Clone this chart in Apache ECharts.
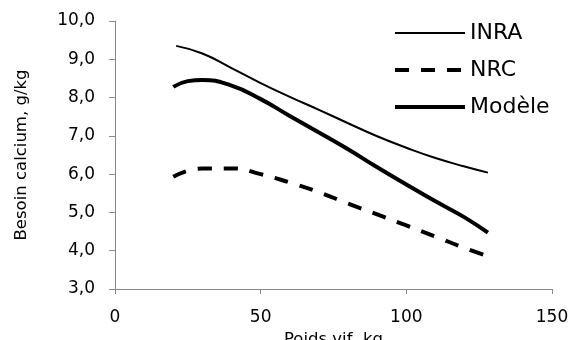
<!DOCTYPE html>
<html>
<head>
<meta charset="utf-8">
<script src="https://cdn.jsdelivr.net/npm/echarts@6/dist/echarts.min.js"></script>
<style>
  html, body { margin: 0; padding: 0; background: #fff; }
  #chart { width: 569px; height: 340px; }
</style>
</head>
<body>
<div id="chart"></div>
<script>
// poids vif (kg) and besoin calcium (g/kg)
const inraX = [21, 30, 40, 50, 60, 70, 80, 90, 100, 110, 120, 128]
const inraY = [9.35, 9.15, 8.77, 8.38, 8.02, 7.68, 7.33, 6.99, 6.69, 6.42, 6.20, 6.04]

const nrcX = [20, 30, 40, 50, 60, 70, 80, 90, 100, 110, 120, 128]
const nrcY = [5.93, 6.15, 6.15, 6.0, 5.78, 5.53, 5.23, 4.95, 4.66, 4.37, 4.07, 3.86]

const modeleX = [20, 25, 30, 40, 50, 60, 70, 80, 90, 100, 110, 120, 128]
const modeleY = [8.28, 8.43, 8.46, 8.31, 7.96, 7.52, 7.09, 6.65, 6.18, 5.73, 5.29, 4.87, 4.47]

const seriesNames = ['INRA', 'NRC', 'Modèle']
const seriesWidths = [2, 4, 4]

const pairs = (xs, ys) => xs.map((x, i) => [x, ys[i]])

const font = 'DejaVu Sans'
const axisColor = '#898989'

const chart = echarts.init(document.getElementById('chart'), null, { renderer: 'canvas' })

const option = {
  animation: false,
  backgroundColor: '#fff',
  grid: { left: 115, right: 17, top: 21, bottom: 51, outerBoundsMode: 'none', containLabel: false },
  legend: {
    data: seriesNames.map((n, i) => ({
      name: n,
      lineStyle: { width: seriesWidths[i], color: '#000' }
    })),
    orient: 'vertical',
    left: 393,
    top: 22,
    padding: 0,
    itemWidth: 70,
    itemHeight: 14,
    itemGap: 15,
    itemStyle: { color: 'transparent', borderWidth: 0 },
    textStyle: { fontFamily: font, fontSize: 22, color: '#000', lineHeight: 22 }
  },
  xAxis: {
    type: 'value',
    min: 0,
    max: 150,
    interval: 50,
    name: 'Poids vif, kg',
    nameLocation: 'middle',
    nameGap: 38,
    nameTextStyle: { fontFamily: font, fontSize: 16.5, color: '#000' },
    axisLine: { show: true, lineStyle: { color: axisColor, width: 1 } },
    axisTick: { show: true, length: 5, lineStyle: { color: axisColor } },
    axisLabel: { fontFamily: font, fontSize: 17, color: '#000', margin: 20 },
    splitLine: { show: false }
  },
  yAxis: {
    type: 'value',
    min: 3,
    max: 10,
    interval: 1,
    name: 'Besoin calcium, g/kg',
    nameLocation: 'middle',
    nameGap: 85,
    nameRotate: 90,
    nameTextStyle: { fontFamily: font, fontSize: 16.5, color: '#000' },
    axisLine: { show: true, lineStyle: { color: axisColor, width: 1 } },
    axisTick: { show: true, length: 6, lineStyle: { color: axisColor } },
    axisLabel: {
      fontFamily: font,
      fontSize: 17,
      color: '#000',
      margin: 20,
      formatter: v => v.toFixed(1).replace('.', ',')
    },
    splitLine: { show: false }
  },
  series: [
    {
      name: 'INRA',
      type: 'line',
      smooth: 0.5,
      symbol: 'none',
      data: pairs(inraX, inraY),
      lineStyle: { color: '#000', width: 2 },
      itemStyle: { color: '#000' }
    },
    {
      name: 'NRC',
      type: 'line',
      smooth: 0.5,
      symbol: 'none',
      data: pairs(nrcX, nrcY),
      lineStyle: { color: '#000', width: 4, type: [14, 12] },
      itemStyle: { color: '#000' }
    },
    {
      name: 'Modèle',
      type: 'line',
      smooth: 0.5,
      symbol: 'none',
      data: pairs(modeleX, modeleY),
      lineStyle: { color: '#000', width: 4 },
      itemStyle: { color: '#000' }
    }
  ]
}

chart.setOption(option)
</script>
</body>
</html>
